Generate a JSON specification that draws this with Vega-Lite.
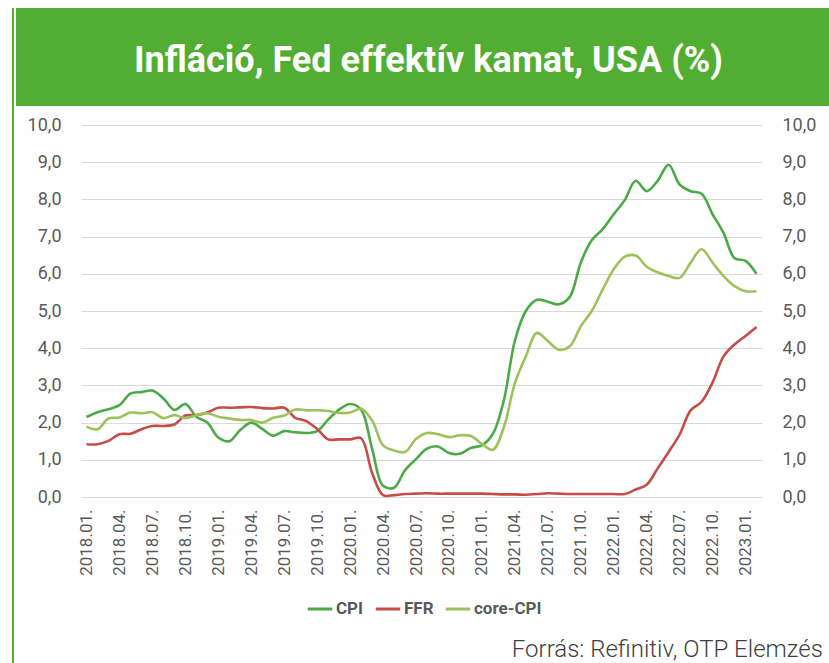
{
  "$schema": "https://vega.github.io/schema/vega-lite/v6.json",
  "background": "white",
  "padding": {"left": 10, "top": 8, "right": 0, "bottom": 0},
  "spacing": 0,
  "hconcat": [
    {
      "width": 2,
      "height": 655,
      "view": {"fill": "#52AE32", "stroke": null},
      "data": {"values": [{"k": 0}]},
      "mark": {"type": "point", "opacity": 0},
      "encoding": {}
    },
    {
      "spacing": 10,
      "vconcat": [
        {
          "width": 817,
          "height": 98,
          "view": {"fill": "#52AE32", "stroke": null},
          "data": {"values": [{"t": "Infláció, Fed effektív kamat, USA (%)"}]},
          "mark": {"type": "text", "font": "Roboto", "fontSize": 36, "fontWeight": "bold", "color": "#ffffff", "align": "center", "baseline": "middle", "dx": 4, "dy": 4},
          "encoding": {"text": {"field": "t", "type": "nominal"}}
        },
        {
          "spacing": 0,
          "hconcat": [
            {
              "width": 11,
              "height": 1,
              "view": {"stroke": null},
              "data": {"values": [{"k": 0}]},
              "mark": {"type": "point", "opacity": 0},
              "encoding": {}
            },
            {
              "width": 681,
              "height": 372,
              "view": {"stroke": null},
              "title": {"text": "Forrás: Refinitiv, OTP Elemzés", "orient": "bottom", "anchor": "end", "frame": "bounds", "font": "Roboto", "fontSize": 24, "fontWeight": 300, "color": "#404040", "offset": 63, "dx": 7},
              "data": {"values": [
                {"m": "2018.01.", "CPI": 2.15, "FFR": 1.42, "core-CPI": 1.89},
                {"m": "2018.02.", "CPI": 2.28, "FFR": 1.42, "core-CPI": 1.82},
                {"m": "2018.03.", "CPI": 2.36, "FFR": 1.51, "core-CPI": 2.11},
                {"m": "2018.04.", "CPI": 2.47, "FFR": 1.69, "core-CPI": 2.14},
                {"m": "2018.05.", "CPI": 2.78, "FFR": 1.70, "core-CPI": 2.27},
                {"m": "2018.06.", "CPI": 2.82, "FFR": 1.82, "core-CPI": 2.25},
                {"m": "2018.07.", "CPI": 2.86, "FFR": 1.91, "core-CPI": 2.28},
                {"m": "2018.08.", "CPI": 2.65, "FFR": 1.91, "core-CPI": 2.12},
                {"m": "2018.09.", "CPI": 2.34, "FFR": 1.95, "core-CPI": 2.20},
                {"m": "2018.10.", "CPI": 2.50, "FFR": 2.19, "core-CPI": 2.12},
                {"m": "2018.11.", "CPI": 2.16, "FFR": 2.20, "core-CPI": 2.20},
                {"m": "2018.12.", "CPI": 2.00, "FFR": 2.27, "core-CPI": 2.25},
                {"m": "2019.01.", "CPI": 1.60, "FFR": 2.40, "core-CPI": 2.16},
                {"m": "2019.02.", "CPI": 1.50, "FFR": 2.40, "core-CPI": 2.11},
                {"m": "2019.03.", "CPI": 1.80, "FFR": 2.41, "core-CPI": 2.07},
                {"m": "2019.04.", "CPI": 2.00, "FFR": 2.42, "core-CPI": 2.07},
                {"m": "2019.05.", "CPI": 1.83, "FFR": 2.39, "core-CPI": 2.00},
                {"m": "2019.06.", "CPI": 1.65, "FFR": 2.38, "core-CPI": 2.13},
                {"m": "2019.07.", "CPI": 1.77, "FFR": 2.40, "core-CPI": 2.19},
                {"m": "2019.08.", "CPI": 1.74, "FFR": 2.13, "core-CPI": 2.35},
                {"m": "2019.09.", "CPI": 1.72, "FFR": 2.04, "core-CPI": 2.33},
                {"m": "2019.10.", "CPI": 1.77, "FFR": 1.83, "core-CPI": 2.33},
                {"m": "2019.11.", "CPI": 2.08, "FFR": 1.55, "core-CPI": 2.31},
                {"m": "2019.12.", "CPI": 2.35, "FFR": 1.55, "core-CPI": 2.26},
                {"m": "2020.01.", "CPI": 2.50, "FFR": 1.55, "core-CPI": 2.27},
                {"m": "2020.02.", "CPI": 2.35, "FFR": 1.58, "core-CPI": 2.37},
                {"m": "2020.03.", "CPI": 1.30, "FFR": 0.65, "core-CPI": 2.06},
                {"m": "2020.04.", "CPI": 0.30, "FFR": 0.05, "core-CPI": 1.39},
                {"m": "2020.05.", "CPI": 0.25, "FFR": 0.05, "core-CPI": 1.25},
                {"m": "2020.06.", "CPI": 0.72, "FFR": 0.08, "core-CPI": 1.21},
                {"m": "2020.07.", "CPI": 1.02, "FFR": 0.09, "core-CPI": 1.56},
                {"m": "2020.08.", "CPI": 1.30, "FFR": 0.10, "core-CPI": 1.72},
                {"m": "2020.09.", "CPI": 1.36, "FFR": 0.09, "core-CPI": 1.69},
                {"m": "2020.10.", "CPI": 1.18, "FFR": 0.09, "core-CPI": 1.61},
                {"m": "2020.11.", "CPI": 1.16, "FFR": 0.09, "core-CPI": 1.66},
                {"m": "2020.12.", "CPI": 1.32, "FFR": 0.09, "core-CPI": 1.64},
                {"m": "2021.01.", "CPI": 1.39, "FFR": 0.09, "core-CPI": 1.43},
                {"m": "2021.02.", "CPI": 1.70, "FFR": 0.08, "core-CPI": 1.27},
                {"m": "2021.03.", "CPI": 2.60, "FFR": 0.07, "core-CPI": 1.88},
                {"m": "2021.04.", "CPI": 4.20, "FFR": 0.07, "core-CPI": 3.06},
                {"m": "2021.05.", "CPI": 5.00, "FFR": 0.06, "core-CPI": 3.78},
                {"m": "2021.06.", "CPI": 5.30, "FFR": 0.08, "core-CPI": 4.41},
                {"m": "2021.07.", "CPI": 5.25, "FFR": 0.10, "core-CPI": 4.19},
                {"m": "2021.08.", "CPI": 5.18, "FFR": 0.09, "core-CPI": 3.96},
                {"m": "2021.09.", "CPI": 5.38, "FFR": 0.08, "core-CPI": 4.05},
                {"m": "2021.10.", "CPI": 6.30, "FFR": 0.08, "core-CPI": 4.59},
                {"m": "2021.11.", "CPI": 6.90, "FFR": 0.08, "core-CPI": 5.00},
                {"m": "2021.12.", "CPI": 7.20, "FFR": 0.08, "core-CPI": 5.58},
                {"m": "2022.01.", "CPI": 7.60, "FFR": 0.08, "core-CPI": 6.12},
                {"m": "2022.02.", "CPI": 7.98, "FFR": 0.08, "core-CPI": 6.46},
                {"m": "2022.03.", "CPI": 8.50, "FFR": 0.20, "core-CPI": 6.49},
                {"m": "2022.04.", "CPI": 8.22, "FFR": 0.33, "core-CPI": 6.19},
                {"m": "2022.05.", "CPI": 8.50, "FFR": 0.77, "core-CPI": 6.04},
                {"m": "2022.06.", "CPI": 8.93, "FFR": 1.21, "core-CPI": 5.94},
                {"m": "2022.07.", "CPI": 8.40, "FFR": 1.68, "core-CPI": 5.89},
                {"m": "2022.08.", "CPI": 8.22, "FFR": 2.33, "core-CPI": 6.30},
                {"m": "2022.09.", "CPI": 8.15, "FFR": 2.56, "core-CPI": 6.66},
                {"m": "2022.10.", "CPI": 7.60, "FFR": 3.08, "core-CPI": 6.30},
                {"m": "2022.11.", "CPI": 7.10, "FFR": 3.78, "core-CPI": 5.94},
                {"m": "2022.12.", "CPI": 6.42, "FFR": 4.10, "core-CPI": 5.67},
                {"m": "2023.01.", "CPI": 6.35, "FFR": 4.33, "core-CPI": 5.53},
                {"m": "2023.02.", "CPI": 6.00, "FFR": 4.57, "core-CPI": 5.53}
              ]},
              "transform": [{"fold": ["CPI", "FFR", "core-CPI"], "as": ["series", "value"]}],
              "encoding": {
                "x": {
                  "field": "m", "type": "ordinal",
                  "scale": {"type": "point", "padding": 0.5},
                  "axis": {
                    "values": ["2018.01.", "2018.04.", "2018.07.", "2018.10.", "2019.01.", "2019.04.", "2019.07.", "2019.10.", "2020.01.", "2020.04.", "2020.07.", "2020.10.", "2021.01.", "2021.04.", "2021.07.", "2021.10.", "2022.01.", "2022.04.", "2022.07.", "2022.10.", "2023.01."],
                    "title": null, "labelAngle": 270, "labelPadding": 12, "ticks": false, "domain": false, "grid": false,
                    "labelFont": "Roboto", "labelFontSize": 17, "labelColor": "#595959"
                  }
                }
              },
              "layer": [
                {
                  "mark": {"type": "line", "interpolate": "catmull-rom", "strokeWidth": 2.6},
                  "encoding": {
                    "y": {
                      "field": "value", "type": "quantitative",
                      "scale": {"domain": [0, 10], "nice": false, "zero": true},
                      "axis": {
                        "orient": "left", "values": [0, 1, 2, 3, 4, 5, 6, 7, 8, 9, 10],
                        "labelExpr": "replace(format(datum.value, '.1f'), '.', ',')",
                        "grid": true, "gridColor": "#d9d9d9", "gridWidth": 1.2, "domain": false, "ticks": false,
                        "labelPadding": 20, "labelFont": "Roboto", "labelFontSize": 18, "labelColor": "#595959",
                        "title": null
                      }
                    },
                    "color": {
                      "field": "series", "type": "nominal",
                      "scale": {"domain": ["CPI", "FFR", "core-CPI"], "range": ["#4BAA45", "#C74B47", "#9CC25A"]},
                      "legend": {
                        "title": null, "orient": "none", "legendX": 294, "legendY": 587, "direction": "horizontal", "symbolType": "stroke",
                        "symbolSize": 600, "symbolStrokeWidth": 3, "labelFont": "Roboto", "labelFontSize": 17,
                        "labelFontWeight": "bold", "labelColor": "#595959", "columnPadding": 5, "labelOffset": 2
                      }
                    }
                  }
                },
                {
                  "mark": {"type": "line", "strokeOpacity": 0},
                  "encoding": {
                    "y": {
                      "field": "value", "type": "quantitative",
                      "scale": {"domain": [0, 10], "nice": false, "zero": true},
                      "axis": {
                        "orient": "right", "values": [0, 1, 2, 3, 4, 5, 6, 7, 8, 9, 10],
                        "labelExpr": "replace(format(datum.value, '.1f'), '.', ',')",
                        "grid": false, "domain": false, "ticks": false, "title": null,
                        "labelPadding": 20, "labelFont": "Roboto", "labelFontSize": 18, "labelColor": "#595959"
                      }
                    },
                    "detail": {"field": "series", "type": "nominal"}
                  }
                }
              ],
              "resolve": {"axis": {"y": "independent"}}
            }
          ]
        }
      ]
    }
  ]
}
